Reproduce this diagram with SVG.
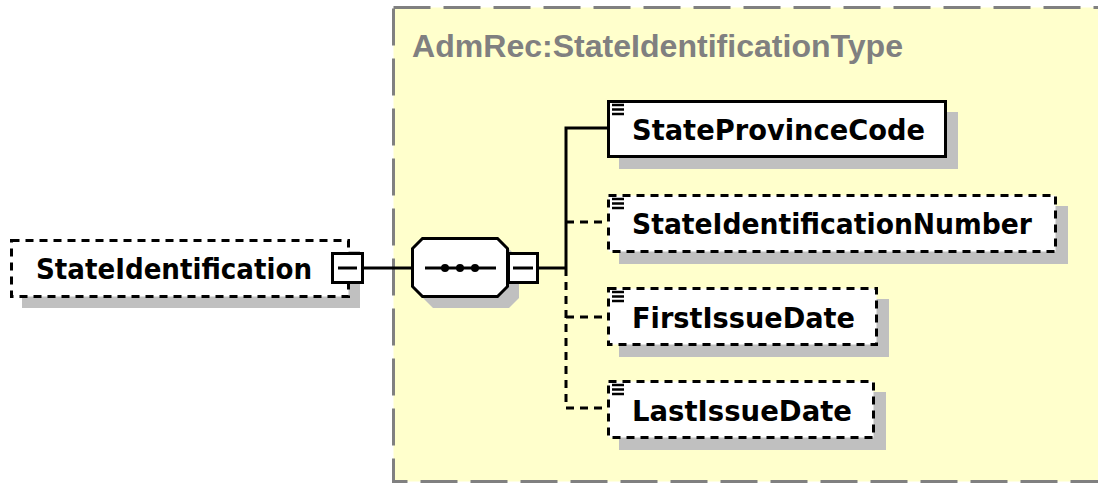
<svg xmlns="http://www.w3.org/2000/svg" width="1098" height="483" viewBox="0 0 1098 483">
<style>
.bg{fill:#ffffff}
.type{fill:#ffffcc;stroke:#808080;stroke-width:3;stroke-dasharray:37 13}
.title{font-family:"Liberation Sans",Arial,sans-serif;font-weight:bold;font-size:31px;fill:#808080}
.shadow{fill:#c0c0c0}
.box{fill:#ffffff;stroke:#000000;stroke-width:3}
.opt{stroke-dasharray:8 6}
.lbl{font-family:"DejaVu Sans",sans-serif;font-weight:bold;font-size:28px;fill:#000000}
.ln{stroke:#000000;stroke-width:3;fill:none}
.dln{stroke:#000000;stroke-width:3;fill:none;stroke-dasharray:8 6}
.ico{stroke:#000000;stroke-width:2.5}
</style>
<rect x="0" y="0" width="1098" height="483" class="bg"/>
<g id="type-box">
<rect x="393.5" y="7.5" width="720" height="474" class="type"/>
<text x="412" y="57" class="title" textLength="491" lengthAdjust="spacingAndGlyphs">AdmRec:StateIdentificationType</text>
</g>
<g id="connectors">
<line x1="363" y1="268" x2="412" y2="268" class="ln"/>
<line x1="538" y1="268" x2="566" y2="268" class="ln"/>
<polyline points="608,128 566,128 566,268" class="ln"/>
<polyline points="566,268 566,408 608,408" class="dln"/>
<line x1="566" y1="222" x2="608" y2="222" class="dln"/>
<line x1="566" y1="317" x2="608" y2="317" class="dln"/>
</g>
<g id="StateIdentification">
<rect x="22" y="251" width="338" height="57" class="shadow"/>
<rect x="11.5" y="240.5" width="337" height="56" class="box opt"/>
<text x="36" y="279" class="lbl" textLength="276" lengthAdjust="spacingAndGlyphs">StateIdentification</text>
<rect x="332.5" y="253.5" width="30" height="29" class="box"/>
<line x1="338" y1="268" x2="357" y2="268" class="ln"/>
</g>
<g id="sequence">
<polygon points="433,249 509,249 519,259 519,298 509,308 433,308 423,298 423,259" class="shadow"/>
<polygon points="422.5,238.5 497.5,238.5 507.5,248.5 507.5,286.5 497.5,296.5 422.5,296.5 412.5,286.5 412.5,248.5" class="box"/>
<line x1="425" y1="268" x2="496" y2="268" class="ln"/>
<circle cx="445" cy="268" r="4"/>
<circle cx="460" cy="268" r="4"/>
<circle cx="475" cy="268" r="4"/>
<rect x="508.5" y="253.5" width="29" height="29" class="box"/>
<line x1="513" y1="268" x2="533" y2="268" class="ln"/>
</g>
<g id="StateProvinceCode">
<rect x="619" y="112" width="339" height="57" class="shadow"/>
<rect x="608.5" y="101.5" width="337" height="55" class="box"/>
<line x1="612" y1="105" x2="624" y2="105" class="ico"/>
<line x1="612" y1="109.5" x2="624" y2="109.5" class="ico"/>
<line x1="612" y1="114" x2="624" y2="114" class="ico"/>
<text x="632" y="140" class="lbl" textLength="293" lengthAdjust="spacingAndGlyphs">StateProvinceCode</text>
</g>
<g id="StateIdentificationNumber">
<rect x="619" y="206" width="449" height="58" class="shadow"/>
<rect x="608.5" y="195.5" width="447" height="56" class="box opt"/>
<line x1="612" y1="199" x2="624" y2="199" class="ico"/>
<line x1="612" y1="203.5" x2="624" y2="203.5" class="ico"/>
<line x1="612" y1="208" x2="624" y2="208" class="ico"/>
<text x="632" y="234" class="lbl" textLength="400" lengthAdjust="spacingAndGlyphs">StateIdentificationNumber</text>
</g>
<g id="FirstIssueDate">
<rect x="619" y="299" width="270" height="58" class="shadow"/>
<rect x="608.5" y="288.5" width="268" height="56" class="box opt"/>
<line x1="612" y1="292" x2="624" y2="292" class="ico"/>
<line x1="612" y1="296.5" x2="624" y2="296.5" class="ico"/>
<line x1="612" y1="301" x2="624" y2="301" class="ico"/>
<text x="632" y="328" class="lbl" textLength="223" lengthAdjust="spacingAndGlyphs">FirstIssueDate</text>
</g>
<g id="LastIssueDate">
<rect x="619" y="392" width="267" height="58" class="shadow"/>
<rect x="608.5" y="381.5" width="265" height="56" class="box opt"/>
<line x1="612" y1="385" x2="624" y2="385" class="ico"/>
<line x1="612" y1="389.5" x2="624" y2="389.5" class="ico"/>
<line x1="612" y1="394" x2="624" y2="394" class="ico"/>
<text x="632" y="421" class="lbl" textLength="220" lengthAdjust="spacingAndGlyphs">LastIssueDate</text>
</g>
</svg>
